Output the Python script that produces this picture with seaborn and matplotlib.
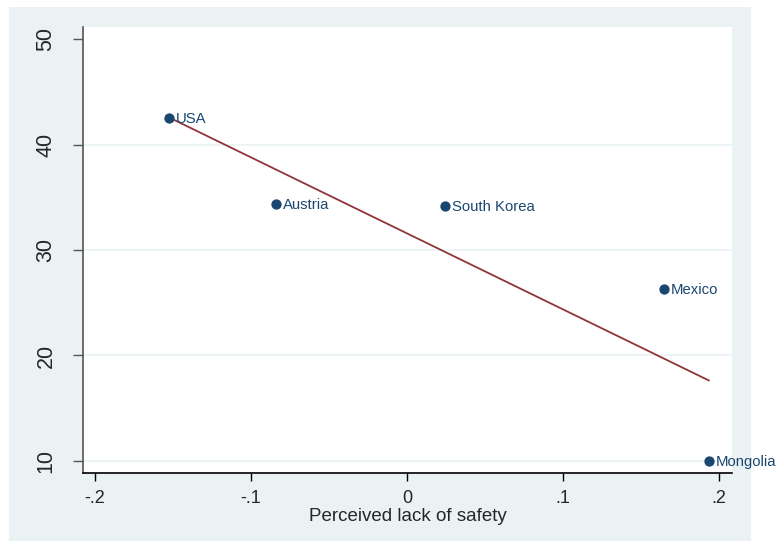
import matplotlib
matplotlib.use("Agg")
import matplotlib.pyplot as plt
import seaborn as sns
import pandas as pd
from matplotlib.patches import Rectangle

countries = ["USA", "Austria", "South Korea", "Mexico", "Mongolia"]
lack_of_safety = [-0.1526, -0.0840, 0.0244, 0.1647, 0.1936]
values = [42.51, 34.36, 34.17, 26.30, 10.00]
x_ticks = [-0.2, -0.1, 0.0, 0.1, 0.2]
x_tick_labels = ["-.2", "-.1", "0", ".1", ".2"]
y_ticks = [10, 20, 30, 40, 50]
y_tick_labels = ["10", "20", "30", "40", "50"]
x_label = "Perceived lack of safety"

df = pd.DataFrame({"country": countries, "x": lack_of_safety, "y": values})

sns.set_style("white")
plt.rcParams["font.family"] = ["Liberation Sans", "DejaVu Sans"]

BG = "#EAF2F3"
NAVY = "#1A476F"
MAROON = "#90353B"

fig = plt.figure(figsize=(7.78, 5.43), dpi=100, facecolor="white")
fig.patches.append(Rectangle((9 / 778, 1 - 541 / 543), 742 / 778, 534 / 543,
                             transform=fig.transFigure, facecolor=BG,
                             edgecolor="none", zorder=-10))
ax = fig.add_axes([83 / 778, 1 - 473 / 543, (732 - 83) / 778, (473 - 27) / 543])
ax.set_zorder(1)
ax.set_facecolor("white")

for yt in y_ticks[:-1]:
    ax.axhline(yt, color=BG, lw=1.2, zorder=0.5)

sns.regplot(data=df, x="x", y="y", scatter=False, ci=None, ax=ax,
            line_kws={"color": MAROON, "lw": 1.3, "zorder": 2})
sns.scatterplot(data=df, x="x", y="y", ax=ax, color=NAVY, s=55,
                edgecolor=NAVY, linewidth=0, zorder=3)

for c, xv, yv in zip(countries, lack_of_safety, values):
    ax.annotate(c, (xv, yv), xytext=(5, -0.5), textcoords="offset points",
                ha="left", va="center", color=NAVY, fontsize=10.7,
                annotation_clip=False, clip_on=False)

ax.set_xlim(-0.2077, 0.2083)
ax.set_ylim(8.86, 51.14)
ax.set_xticks(x_ticks)
ax.set_xticklabels(x_tick_labels, fontsize=13)
ax.set_yticks(y_ticks)
ax.set_yticklabels(y_tick_labels, fontsize=15.5, rotation=90, va="center")
ax.tick_params(axis="x", length=6, width=1, color="black", pad=6, direction="out", bottom=True)
ax.tick_params(axis="y", length=7, width=1, color="#555555", pad=12, direction="out", left=True)

for s in ["top", "right"]:
    ax.spines[s].set_visible(False)
ax.spines["left"].set_color("#555555")
ax.spines["left"].set_linewidth(1.2)
ax.spines["bottom"].set_color("black")
ax.spines["bottom"].set_linewidth(1.2)

ax.set_xlabel(x_label, fontsize=13.5, labelpad=1)
ax.set_ylabel("")

fig.savefig("out.png", dpi=100, facecolor="white")
